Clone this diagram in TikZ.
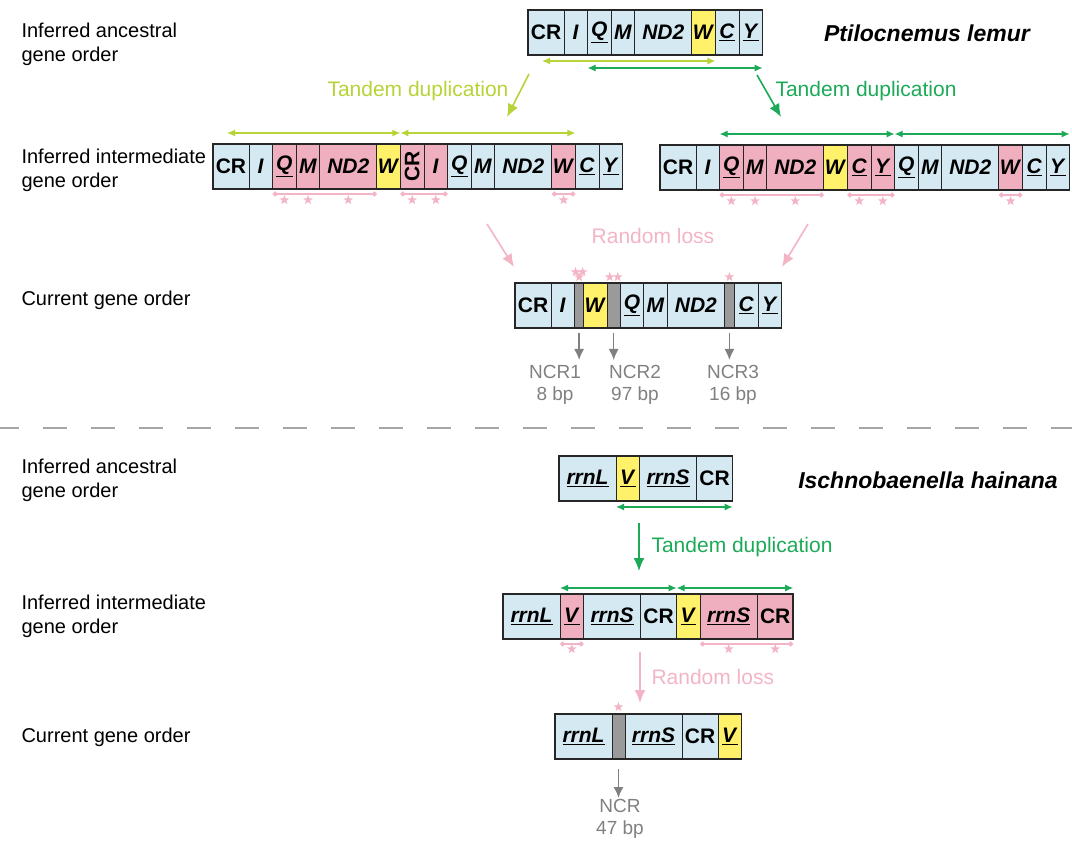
\documentclass[tikz,border=0pt]{standalone}
\usepackage{fontspec}
\setmainfont{Liberation Sans}
\usetikzlibrary{arrows.meta,shapes.geometric}

\definecolor{geneblue}{HTML}{D4E9F2}
\definecolor{genepink}{HTML}{F0AFBF}
\definecolor{geneyellow}{HTML}{FFF26A}
\definecolor{ncrgray}{HTML}{9A9A9A}
\definecolor{dupline}{HTML}{B6D337}
\definecolor{dupgreen}{HTML}{1DAA58}
\definecolor{losspink}{HTML}{F3B5C5}
\definecolor{notegray}{HTML}{808080}

\newcommand\genei[1]{\textit{#1}}
\newcommand\geneu[1]{\underline{\textit{#1}}}

% one row of gene boxes: name, top left corner, list label/colour/width
\newcommand\generow[3]{%
  \node[inner sep=0pt, outer sep=0pt, anchor=north east] (#1-0) at #2 {};
  \foreach \lab/\cc/\cw [count=\i] in {#3}{
    \pgfmathtruncatemacro\prev{\i-1}
    \node[gene, fill=\cc, minimum width=\cw pt] (#1-\i) at (#1-\prev.north east) {\lab};
    \xdef\lastcell{\i}
  }
  \draw[geneframe] (#1-1.north west) rectangle (#1-\lastcell.south east);
}

\tikzset{
  gene/.style={draw=black!85, line width=0.9pt, minimum height=45pt, inner sep=0pt,
    outer sep=0pt, anchor=north west, font=\fontsize{21}{24}\selectfont\bfseries},
  geneframe/.style={draw=black!85, line width=1.6pt},
  rowlabel/.style={anchor=west, align=left, font=\fontsize{20}{24}\selectfont},
  species/.style={font=\fontsize{23}{26}\selectfont\bfseries\itshape},
  dup/.style={line width=1.2pt, {Latex[length=8pt,width=7pt]}-{Latex[length=8pt,width=7pt]}},
  flow/.style={line width=1.6pt, -{Latex[length=13pt,width=11pt]}},
  flowtext/.style={font=\fontsize{21}{25}\selectfont},
  lossline/.style={losspink, line width=1.2pt, {Circle[length=5pt]}-{Circle[length=5pt]}},
  lossstar/.style={star, star points=5, star point ratio=2.4, fill=losspink, draw=none,
    inner sep=0pt, minimum size=10pt},
  ncrarrow/.style={notegray, line width=1.5pt, -{Latex[length=11pt,width=10pt]}},
  ncrtext/.style={notegray, align=center, font=\fontsize{19}{22}\selectfont},
}

\begin{document}
\begin{tikzpicture}[x=1pt,y=-1pt]
\useasboundingbox (0,0) rectangle (1072,842);

% row labels
\node[rowlabel] (lab-anc) at (18,44) {Inferred ancestral\\gene order};
\node[rowlabel] (lab-int) at (18,170) {Inferred intermediate\\gene order};
\node[rowlabel] (lab-cur) at (18,300) {Current gene order};
\node[rowlabel] (lab-banc) at (18,480) {Inferred ancestral\\gene order};
\node[rowlabel] (lab-bint) at (18,616) {Inferred intermediate\\gene order};
\node[rowlabel] (lab-bcur) at (18,737) {Current gene order};

\node[species] (sp-top) at (927,33) {Ptilocnemus lemur};
\node[species] (sp-bot) at (928,480) {Ischnobaenella hainana};

% Ptilocnemus lemur
\generow{anc}{(528,10)}{CR/geneblue/36, \genei{I}/geneblue/23.6, \geneu{Q}/geneblue/23.6,
  \genei{M}/geneblue/23.6, \genei{ND2}/geneblue/57, \genei{W}/geneyellow/23.6,
  \geneu{C}/geneblue/23.6, \geneu{Y}/geneblue/23.6}
\draw[dup, dupline] ([xshift=-4pt,yshift=-6pt]anc-1.south) -- ([yshift=-6pt]anc-6.south east);
\draw[dup, dupgreen] ([yshift=-13pt]anc-3.south west) -- ([yshift=-13pt]anc-8.south east);

\draw[flow, dupline] (529,74) -- (507,117);
\node[flowtext, dupline, anchor=east] (td-left) at (512,91) {Tandem duplication};
\draw[flow, dupgreen] (757,75) -- (781,117);
\node[flowtext, dupgreen, anchor=west] (td-right) at (772,91) {Tandem duplication};

\generow{intl}{(213,144)}{CR/geneblue/36, \genei{I}/geneblue/23.6, \geneu{Q}/genepink/23.6,
  \genei{M}/genepink/23.6, \genei{ND2}/genepink/57, \genei{W}/geneyellow/23.6,
  \rotatebox{90}{CR}/genepink/23.6, \genei{I}/genepink/23.6, \geneu{Q}/geneblue/23.6,
  \genei{M}/geneblue/23.6, \genei{ND2}/geneblue/57, \genei{W}/genepink/23.6,
  \geneu{C}/geneblue/23.6, \geneu{Y}/geneblue/23.6}
\draw[dup, dupline] ([xshift=-4pt,yshift=11pt]intl-1.north) -- ([yshift=11pt]intl-6.north east);
\draw[dup, dupline] ([yshift=11pt]intl-6.north east) -- ([yshift=11pt]intl-12.north east);
\draw[lossline] ([yshift=-5pt]intl-3.south west) -- ([yshift=-5pt]intl-5.south east);
\draw[lossline] ([yshift=-5pt]intl-7.south west) -- ([yshift=-5pt]intl-8.south east);
\draw[lossline] ([yshift=-5pt]intl-12.south west) -- ([yshift=-5pt]intl-12.south east);
\foreach \c in {3,4,5,7,8,12}
  \node[lossstar] (st-intl-\c) at ([yshift=-11pt]intl-\c.south) {};

\generow{intr}{(660,145)}{CR/geneblue/36, \genei{I}/geneblue/23.6, \geneu{Q}/genepink/23.6,
  \genei{M}/genepink/23.6, \genei{ND2}/genepink/57, \genei{W}/geneyellow/23.6,
  \geneu{C}/genepink/23.6, \geneu{Y}/genepink/23.6, \geneu{Q}/geneblue/23.6,
  \genei{M}/geneblue/23.6, \genei{ND2}/geneblue/57, \genei{W}/genepink/23.6,
  \geneu{C}/geneblue/23.6, \geneu{Y}/geneblue/23.6}
\draw[dup, dupgreen] ([yshift=11pt]intr-3.north west) -- ([yshift=11pt]intr-8.north east);
\draw[dup, dupgreen] ([yshift=11pt]intr-8.north east) -- ([yshift=11pt]intr-14.north east);
\draw[lossline] ([yshift=-5pt]intr-3.south west) -- ([yshift=-5pt]intr-5.south east);
\draw[lossline] ([yshift=-5pt]intr-7.south west) -- ([yshift=-5pt]intr-8.south east);
\draw[lossline] ([yshift=-5pt]intr-12.south west) -- ([yshift=-5pt]intr-12.south east);
\foreach \c in {3,4,5,7,8,12}
  \node[lossstar] (st-intr-\c) at ([yshift=-11pt]intr-\c.south) {};

\node[flowtext, losspink] (rl-top) at (653,236) {Random loss};
\draw[flow, losspink] (487,224) -- (514,267);
\draw[flow, losspink] (808,224) -- (782,267);

\generow{cur}{(515,283)}{CR/geneblue/36, \genei{I}/geneblue/23.6, {}/ncrgray/9,
  \genei{W}/geneyellow/23.6, {}/ncrgray/13, \geneu{Q}/geneblue/23.6,
  \genei{M}/geneblue/23.6, \genei{ND2}/geneblue/57, {}/ncrgray/10,
  \geneu{C}/geneblue/23.6, \geneu{Y}/geneblue/23.6}
\node[lossstar] (st-cur-1) at ([xshift=-3.5pt,yshift=11pt]cur-3.north) {};
\node[lossstar] (st-cur-2) at ([xshift=3.5pt,yshift=11pt]cur-3.north) {};
\node[lossstar] (st-cur-3) at ([yshift=6pt]cur-3.north) {};
\node[lossstar] (st-cur-4) at ([xshift=-4pt,yshift=6pt]cur-5.north) {};
\node[lossstar] (st-cur-5) at ([xshift=4pt,yshift=6pt]cur-5.north) {};
\node[lossstar] (st-cur-6) at ([yshift=6pt]cur-9.north) {};

\node[ncrtext] (ncr1) at (555,385) {NCR1\\8 bp};
\node[ncrtext] (ncr2) at (635,385) {NCR2\\97 bp};
\node[ncrtext] (ncr3) at (733,385) {NCR3\\16 bp};
\draw[ncrarrow] ([yshift=-5pt]cur-3.south) -- ++(0,27);
\draw[ncrarrow] ([yshift=-5pt]cur-5.south) -- ++(0,27);
\draw[ncrarrow] ([yshift=-5pt]cur-9.south) -- ++(0,27);

% separator
\draw[gray!70, line width=2.2pt, dash pattern=on 24pt off 24pt, dash phase=5pt] (0,428) -- (1072,428);

% Ischnobaenella hainana
\generow{banc}{(559,456)}{\geneu{rrnL}/geneblue/57, \geneu{V}/geneyellow/23.6,
  \geneu{rrnS}/geneblue/57, CR/geneblue/36}
\draw[dup, dupgreen] ([yshift=-6pt]banc-2.south west) -- ([yshift=-6pt]banc-4.south east);

\draw[flow, dupgreen] (639,523) -- (639,571);
\node[flowtext, dupgreen, anchor=west] (td-bot) at (648,547) {Tandem duplication};

\generow{bint}{(503,594)}{\geneu{rrnL}/geneblue/57, \geneu{V}/genepink/23.6,
  \geneu{rrnS}/geneblue/57, CR/geneblue/36, \geneu{V}/geneyellow/23.6,
  \geneu{rrnS}/genepink/57, CR/genepink/36}
\draw[dup, dupgreen] ([yshift=6pt]bint-2.north west) -- ([yshift=6pt]bint-4.north east);
\draw[dup, dupgreen] ([yshift=6pt]bint-4.north east) -- ([yshift=6pt]bint-7.north east);
\draw[lossline] ([yshift=-5pt]bint-2.south west) -- ([yshift=-5pt]bint-2.south east);
\draw[lossline] ([yshift=-5pt]bint-6.south west) -- ([yshift=-5pt]bint-7.south east);
\foreach \c in {2,6,7}
  \node[lossstar] (st-bint-\c) at ([yshift=-10pt]bint-\c.south) {};

\draw[flow, losspink] (640,652) -- (640,703);
\node[flowtext, losspink, anchor=west] (rl-bot) at (648,677) {Random loss};

\generow{bcur}{(555,714)}{\geneu{rrnL}/geneblue/57, {}/ncrgray/13,
  \geneu{rrnS}/geneblue/57, CR/geneblue/36, \geneu{V}/geneyellow/23.6}
\node[lossstar] (st-bcur) at ([yshift=7pt]bcur-2.north) {};
\node[ncrtext] (ncr-b) at (620,819) {NCR\\47 bp};
\draw[ncrarrow] ([yshift=-10pt]bcur-2.south) -- ++(0,29);
\end{tikzpicture}
\end{document}
